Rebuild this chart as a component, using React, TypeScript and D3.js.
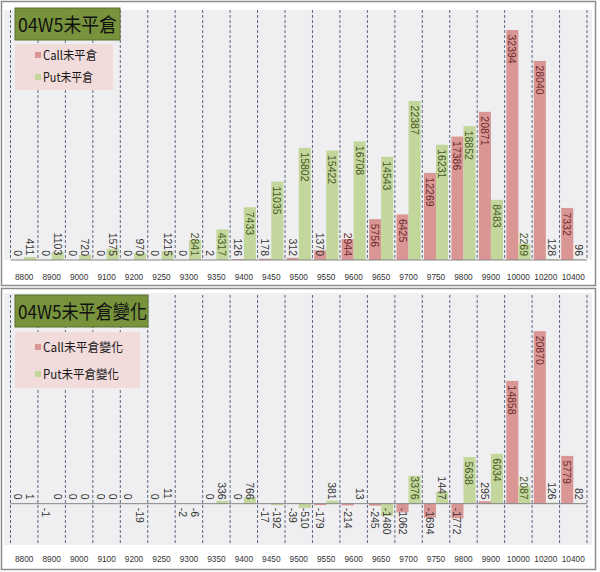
import React from 'react';
import * as d3 from 'd3';

const categories = ['8800','8900','9000','9100','9200','9250','9300','9350','9400','9450','9500','9550','9600','9650','9700','9750','9800','9900','10000','10200','10400'];
const callOI = [0,0,0,0,0,0,0,2,126,178,312,1370,2944,5756,6425,12269,17386,20871,32394,28040,7332];
const putOI = [411,1103,720,1575,970,1215,2841,4317,7433,11035,15802,15422,16708,14543,22387,16231,18852,8483,2269,128,96];
const callChg = [0,-1,0,0,0,0,-2,0,0,-17,-39,-179,-214,-245,-1062,-1694,-1772,295,14858,20870,5779];
const putChg = [1,0,0,0,-19,11,-6,336,766,-192,-510,381,13,-1480,3376,1447,5638,6034,2087,126,82];

const CALL_FILL = '#d99694';
const PUT_FILL = '#c3d69b';
const LABEL_FONT = '"Liberation Sans", Arial, sans-serif';
const CJK_FONT = '"Noto Sans CJK TC", "Noto Sans CJK SC", sans-serif';

const x = d3.scaleBand<string>().domain(categories).range([10.5, 587]).paddingInner(0).paddingOuter(0);
const sub = d3.scaleBand<string>().domain(['call', 'put']).range([0, x.bandwidth()]).paddingInner(0).paddingOuter(0.14);

function textLen(s: string, fs: number) {
  let w = 0;
  for (const c of s) w += c === '-' ? 0.333 * fs : 0.556 * fs;
  return w;
}

type PanelProps = {
  title: string; titleW: number; titleLen: number;
  legend: string[]; legendW: number; legendLens: number[];
  top: number; plotTop: number; plotBottom: number; frameBottom: number;
  domain: [number, number]; rangeTop: number;
  call: number[]; put: number[]; axisY: number; bgTop: number;
  legendTop: number; legendH: number; itemYs: number[];
};

function Panel(p: PanelProps) {
  const y = d3.scaleLinear().domain(p.domain).range([p.plotBottom, p.rangeTop]);
  const y0 = y(0);
  const fs = 10.5;
  const edges = categories.map((c) => x(c)!).concat([x.range()[1]]);
  const series = [
    { key: 'call', vals: p.call, fill: CALL_FILL, dark: '#6b2b2a' },
    { key: 'put', vals: p.put, fill: PUT_FILL, dark: '#45561f' },
  ];
  return (
    <g>
      <rect x={1.5} y={p.top + 0.5} width={594} height={p.frameBottom - p.top - 1} fill="#ffffff" stroke="#8c8c8c" strokeWidth={1.5} />
      <rect x={4} y={p.bgTop} width={588} height={p.plotBottom - p.bgTop} fill="#efeff1" />
      {edges.map((e, i) => (
        <line key={'g' + i} x1={e} x2={e} y1={p.plotTop} y2={p.plotBottom} stroke="#5d6780" strokeWidth={1} strokeDasharray="3,2" />
      ))}
      {series.map((s) =>
        s.vals.map((v, i) => {
          const bx = x(categories[i])! + sub(s.key)!;
          const bw = sub.bandwidth();
          const yt = Math.min(y(v), y0);
          const h = Math.abs(y(v) - y0);
          return <rect key={s.key + i} x={bx} y={yt} width={bw} height={h} fill={s.fill} />;
        })
      )}
      <line x1={10.5} x2={587} y1={y0} y2={y0} stroke="#868686" strokeWidth={1} />
      {series.map((s) =>
        s.vals.map((v, i) => {
          const label = String(v);
          const len = textLen(label, fs);
          const cx = x(categories[i])! + sub(s.key)! + sub.bandwidth() / 2;
          let top: number;
          if (v >= 0) top = Math.min(y(v) + 4.5, y0 - 4 - len);
          else top = Math.max(y0 + 4, y(v) - 4 - len);
          const barLen = Math.abs(y(v) - y0);
          const inside = barLen > len * 0.6;
          return (
            <text key={'l' + s.key + i} transform={`translate(${cx},${top}) rotate(90)`} dominantBaseline="central"
              fontFamily={LABEL_FONT} fontSize={fs} fill={inside ? s.dark : '#333333'}>{label}</text>
          );
        })
      )}
      {categories.map((c) => (
        <text key={'a' + c} x={x(c)! + x.bandwidth() / 2} y={p.axisY} textAnchor="middle"
          fontFamily={LABEL_FONT} fontSize={9.5} fill="#333333"
          textLength={c.length * 4.6} lengthAdjust="spacingAndGlyphs">{c}</text>
      ))}
      <rect x={15} y={p.top + 7} width={p.titleW} height={32} fill="#77933c" stroke="#5b7030" strokeWidth={1} />
      <text x={18} y={p.top + 31} fontFamily={CJK_FONT} fontSize={19} fill="#111111" textLength={p.titleLen} lengthAdjust="spacingAndGlyphs">{p.title}</text>
      <rect x={15} y={p.legendTop} width={p.legendW} height={p.legendH} fill="#f2dcdb" />
      {p.legend.map((t, i) => (
        <g key={'lg' + i}>
          <rect x={35} y={p.itemYs[i] - 8} width={6} height={6} fill={i === 0 ? CALL_FILL : PUT_FILL} />
          <text x={43} y={p.itemYs[i]} fontFamily={CJK_FONT} fontSize={12.5} fill="#1a1a1a" textLength={p.legendLens[i]} lengthAdjust="spacingAndGlyphs">{t}</text>
        </g>
      ))}
    </g>
  );
}

export default function App() {
  return (
    <svg width={600} height={572} style={{ position: 'absolute', left: 0, top: 0, background: '#ffffff' }}>
      <rect x={0} y={0} width={600} height={572} fill="#ffffff" />
      <Panel title="04W5未平倉" titleW={105} titleLen={99}
        legend={['Call未平倉', 'Put未平倉']} legendW={98} legendLens={[54, 50]}
        top={1} plotTop={10} bgTop={10} plotBottom={260} frameBottom={286}
        domain={[0, 35000]} rangeTop={11.5}
        call={callOI} put={putOI} axisY={280}
        legendTop={44} legendH={46} itemYs={[60, 82]} />
      <Panel title="04W5未平倉變化" titleW={133} titleLen={129}
        legend={['Call未平倉變化', 'Put未平倉變化']} legendW={125} legendLens={[80, 76]}
        top={288} plotTop={295} bgTop={293} plotBottom={545} frameBottom={570}
        domain={[-5000, 25000]} rangeTop={297}
        call={callChg} put={putChg} axisY={562}
        legendTop={332} legendH={56} itemYs={[352, 379]} />
    </svg>
  );
}
